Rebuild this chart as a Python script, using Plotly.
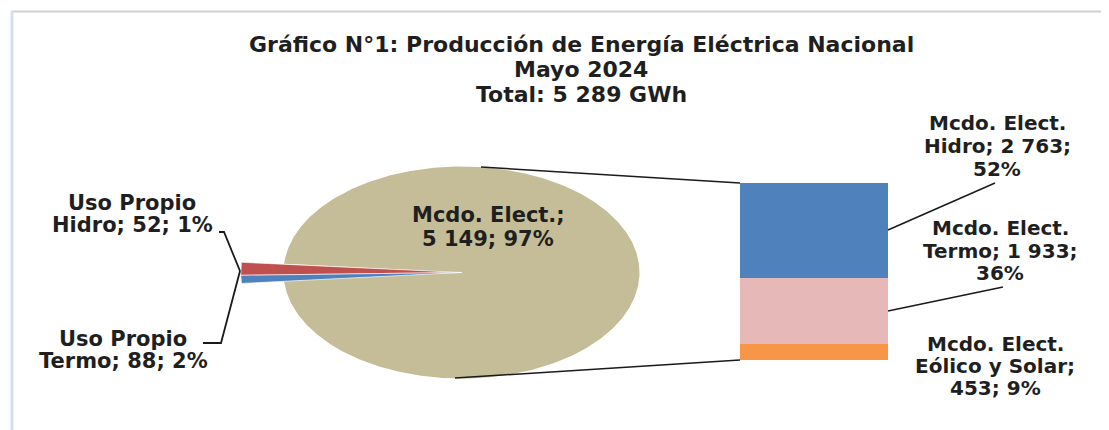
import numpy as np
import plotly.graph_objects as go

# ---------------- data ----------------
pie_labels = ["Mcdo. Elect.", "Uso Propio Termo", "Uso Propio Hidro"]
pie_values = [5149, 88, 52]
pie_pct = [97, 2, 1]
pie_colors = ["#C4BD97", "#C0504D", "#4F81BD"]

bar_labels = ["Mcdo. Elect. Eólico y Solar", "Mcdo. Elect. Termo", "Mcdo. Elect. Hidro"]
bar_values = [453, 1933, 2763]
bar_pct = [9, 36, 52]
bar_colors = ["#F79646", "#E6B9B8", "#4F81BD"]

title_lines = ["Gráfico N°1: Producción de Energía Eléctrica Nacional", "Mayo 2024", "Total: 5 289 GWh"]

# page has an 8px body margin -> figure drawn from (8, 8)
OFF = 8
FW, FH = 1109 - OFF, 430 - OFF
FONT = "DejaVu Sans"
TXT = "#1f1f1f"

def px(x):
    return (x - OFF) / FW

def py(y):
    return 1 - (y - OFF) / FH

# ---------------- pie geometry (layout) ----------------
cx_px, cy_px, rx_px, ry_px = 461.5 - OFF, 272.5 - OFF, 178.0, 106.0
x_rng = [-cx_px / rx_px, (FW - cx_px) / rx_px]
y_rng = [-(FH - cy_px) / ry_px, cy_px / ry_px]

fig = go.Figure()

total = sum(pie_values)
small_deg = sum(pie_values[1:]) / total * 360
ang = 180 - small_deg / 2
slices = []
for v, c, lab in zip(pie_values[1:], pie_colors[1:], pie_labels[1:]):
    d = v / total * 360
    slices.append((ang, ang + d, c, lab, v, 1.24))
    ang += d
big_deg = pie_values[0] / total * 360
slices.insert(0, (ang, ang + big_deg, pie_colors[0], pie_labels[0], pie_values[0], 1.0))

for a0, a1, c, lab, v, r in slices:
    th = np.radians(np.linspace(a0, a1, max(int(abs(a1 - a0) * 2), 20)))
    xs = np.concatenate([[0], r * np.cos(th), [0]])
    ys = np.concatenate([[0], r * np.sin(th), [0]])
    fig.add_trace(go.Scatter(
        x=xs, y=ys, mode="lines", fill="toself", fillcolor=c,
        line=dict(color="white", width=0.6 if r > 1 else 0),
        name=lab, hoverinfo="text", text=f"{lab}: {v}",
        xaxis="x", yaxis="y", showlegend=False))

for v, c, lab in zip(bar_values, bar_colors, bar_labels):
    fig.add_trace(go.Bar(
        x=[0], y=[v], marker=dict(color=c, line=dict(width=0)),
        name=lab, xaxis="x2", yaxis="y2", showlegend=False,
        hovertemplate=f"{lab}: %{{y}}<extra></extra>"))

bar_top, bar_bot, bar_l, bar_r = 183, 360, 740, 888

fig.update_layout(
    width=FW, height=FH,
    margin=dict(l=0, r=0, t=0, b=0),
    paper_bgcolor="white", plot_bgcolor="rgba(0,0,0,0)",
    barmode="stack", bargap=0,
    xaxis=dict(domain=[0, 1], range=x_rng, visible=False, fixedrange=True),
    yaxis=dict(domain=[0, 1], range=y_rng, visible=False, fixedrange=True),
    xaxis2=dict(domain=[px(bar_l), px(bar_r)], range=[-0.5, 0.5], visible=False, anchor="y2"),
    yaxis2=dict(domain=[py(bar_bot), py(bar_top)], range=[0, sum(bar_values)], visible=False, anchor="x2"),
    font=dict(family=FONT, color=TXT),
)

line_col = "#1a1a1a"
shapes = [
    dict(type="line", xref="paper", yref="paper", x0=px(11), x1=1, y0=py(11.5), y1=py(11.5),
         line=dict(color="#D0D0D0", width=2)),
    dict(type="line", xref="paper", yref="paper", x0=px(12), x1=px(12), y0=py(11), y1=0,
         line=dict(color="#D5DFF2", width=3)),
    dict(type="line", xref="paper", yref="paper", x0=px(481), y0=py(167), x1=px(bar_l), y1=py(bar_top),
         line=dict(color=line_col, width=1.5)),
    dict(type="line", xref="paper", yref="paper", x0=px(455), y0=py(378), x1=px(bar_l), y1=py(bar_bot),
         line=dict(color=line_col, width=1.5)),
    dict(type="line", xref="paper", yref="paper", x0=px(888), y0=py(230), x1=px(995), y1=py(183),
         line=dict(color=line_col, width=1.5)),
    dict(type="line", xref="paper", yref="paper", x0=px(888), y0=py(311), x1=px(1003), y1=py(287),
         line=dict(color=line_col, width=1.5)),
    dict(type="path", xref="paper", yref="paper",
         path=f"M {px(219)} {py(232)} L {px(224)} {py(232)} L {px(240)} {py(271)}",
         line=dict(color=line_col, width=1.8)),
    dict(type="path", xref="paper", yref="paper",
         path=f"M {px(240)} {py(271)} L {px(221)} {py(343)} L {px(203)} {py(343)}",
         line=dict(color=line_col, width=1.8)),
]
fig.update_layout(shapes=shapes)

def fmt(v):
    return f"{v:,}".replace(",", " ")

def lines_ann(x, ys, texts, size):
    out = []
    for y, t in zip(ys, texts):
        out.append(dict(xref="paper", yref="paper", x=px(x), y=py(y), text=t, showarrow=False,
                        xanchor="center", yanchor="middle", align="center",
                        font=dict(family=FONT, size=size, color=TXT, weight="bold")))
    return out

annotations = []
annotations += lines_ann(581, [45, 70, 94], title_lines, 22)
annotations += lines_ann(488, [215, 239],
                         ["Mcdo. Elect.;", f"{fmt(pie_values[0])}; {pie_pct[0]}%"], 21)
annotations += lines_ann(132, [203, 225],
                         ["Uso Propio", f"Hidro; {pie_values[2]}; {pie_pct[2]}%"], 21)
annotations += lines_ann(123, [339, 361],
                         ["Uso Propio", f"Termo; {pie_values[1]}; {pie_pct[1]}%"], 21)
annotations += lines_ann(997, [123, 146, 169],
                         ["Mcdo. Elect.", f"Hidro; {fmt(bar_values[2])};", f"{bar_pct[2]}%"], 20)
annotations += lines_ann(1000, [228, 251, 273],
                         ["Mcdo. Elect.", f"Termo; {fmt(bar_values[1])};", f"{bar_pct[1]}%"], 20)
annotations += lines_ann(995, [344, 366, 388],
                         ["Mcdo. Elect.", "Eólico y Solar;", f"{bar_values[0]}; {bar_pct[0]}%"], 20)
fig.update_layout(annotations=annotations)

fig.write_html("out.html")
